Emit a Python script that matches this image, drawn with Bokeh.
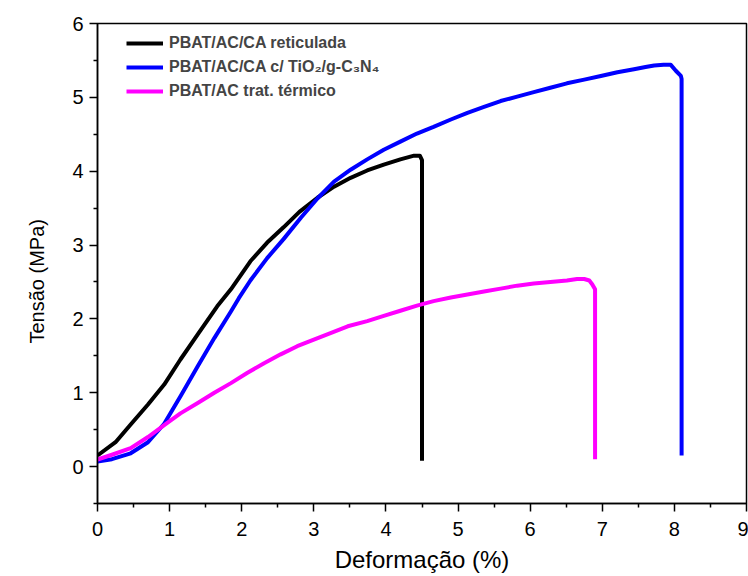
from bokeh.plotting import figure
from bokeh.models import FixedTicker, Legend, LegendItem, Range1d, Title
from bokeh.embed import file_html
from bokeh.resources import INLINE

# --- data ---
ret_x = [0, 0.25, 0.46, 0.7, 0.925, 1.15, 1.39, 1.66, 1.85, 2.12, 2.35, 2.58, 2.8, 3.05, 3.28,
         3.51, 3.74, 3.97, 4.2, 4.39, 4.47, 4.5, 4.5]
ret_y = [0.15, 0.33, 0.57, 0.84, 1.11, 1.45, 1.79, 2.17, 2.40, 2.78, 3.03, 3.24, 3.45, 3.64, 3.79,
         3.91, 4.01, 4.09, 4.16, 4.21, 4.21, 4.15, 0.08]

tio_x = [0, 0.2, 0.46, 0.7, 0.925, 1.155, 1.39, 1.62, 1.85, 1.96, 2.12, 2.35, 2.58, 2.82, 3.05,
         3.28, 3.51, 3.74, 3.97, 4.20, 4.43, 4.66, 4.90, 5.13, 5.36, 5.59, 5.82, 6.05, 6.28, 6.51,
         6.75, 6.98, 7.21, 7.44, 7.6, 7.72, 7.85, 7.95, 8.02, 8.09, 8.10, 8.10]
tio_y = [0.07, 0.10, 0.18, 0.33, 0.58, 0.96, 1.36, 1.74, 2.10, 2.28, 2.52, 2.82, 3.08, 3.37, 3.63,
         3.86, 4.02, 4.16, 4.29, 4.40, 4.51, 4.60, 4.70, 4.79, 4.87, 4.95, 5.01, 5.07, 5.13, 5.19,
         5.24, 5.29, 5.34, 5.38, 5.41, 5.43, 5.44, 5.44, 5.36, 5.29, 5.25, 0.15]

tt_x = [0, 0.2, 0.46, 0.7, 0.925, 1.15, 1.39, 1.62, 1.85, 2.08, 2.31, 2.54, 2.77, 3.0, 3.24,
        3.47, 3.74, 3.97, 4.2, 4.43, 4.66, 4.9, 5.13, 5.36, 5.59, 5.82, 6.05, 6.28, 6.51, 6.65,
        6.75, 6.82, 6.86, 6.90, 6.90]
tt_y = [0.095, 0.16, 0.25, 0.40, 0.56, 0.72, 0.86, 1.00, 1.13, 1.27, 1.40, 1.52, 1.63, 1.72, 1.81,
        1.90, 1.97, 2.04, 2.11, 2.18, 2.24, 2.29, 2.33, 2.37, 2.41, 2.45, 2.48, 2.50, 2.52, 2.54,
        2.54, 2.52, 2.47, 2.40, 0.10]

labels = ["PBAT/AC/CA reticulada", "PBAT/AC/CA c/ TiO\u2082/g-C\u2083N\u2084", "PBAT/AC trat. térmico"]
colors = ["#000000", "#0000FF", "#FF00FF"]

x_ticks = [0, 1, 2, 3, 4, 5, 6, 7, 8, 9]
x_minor = [0.5, 1.5, 2.5, 3.5, 4.5, 5.5, 6.5, 7.5, 8.5]
y_ticks = [0, 1, 2, 3, 4, 5, 6]
y_minor = [-0.5, 0.5, 1.5, 2.5, 3.5, 4.5, 5.5]

x_title = "Deformação (%)"
y_title = "Tensão (MPa)"

FONT = "Liberation Sans"

p = figure(width=748, height=576, output_backend="svg", toolbar_location=None,
           x_range=Range1d(0, 9), y_range=Range1d(-0.5, 6),
           min_border_left=97, min_border_right=2, min_border_top=23, min_border_bottom=73)
p.grid.visible = False
p.outline_line_color = "black"
p.outline_line_width = 1.5
p.background_fill_color = "white"
p.border_fill_color = "white"

rs = []
for xs, ys, c in zip([ret_x, tio_x, tt_x], [ret_y, tio_y, tt_y], colors):
    r = p.line(xs, ys, line_color=c, line_width=4, line_join="round")
    rs.append(r)

for ax in (p.xaxis[0], p.yaxis[0]):
    ax.axis_line_width = 1.5
    ax.major_tick_line_width = 1.5
    ax.minor_tick_line_width = 1.5
    ax.major_tick_in = 0
    ax.major_tick_out = 8
    ax.minor_tick_in = 0
    ax.minor_tick_out = 4
    ax.major_label_text_font = FONT
    ax.major_label_text_font_size = "20px"
    ax.major_label_text_color = "black"
    ax.axis_label_text_font = FONT
    ax.axis_label_text_font_style = "normal"
    ax.axis_label_text_color = "black"

p.xaxis[0].ticker = FixedTicker(ticks=x_ticks, minor_ticks=x_minor)
p.yaxis[0].ticker = FixedTicker(ticks=y_ticks, minor_ticks=y_minor)
p.xaxis[0].axis_label = x_title
p.xaxis[0].axis_label_text_font_size = "24px"
p.xaxis[0].major_label_standoff = 10
p.yaxis[0].major_label_standoff = 6
p.xaxis[0].axis_label_standoff = 7

ytitle = Title(text=y_title, align="left", offset=160, standoff=44,
               text_font=FONT, text_font_size="20px", text_font_style="normal",
               text_color="black")
p.add_layout(ytitle, "left")

legend = Legend(items=[LegendItem(label=l, renderers=[r]) for l, r in zip(labels, rs)],
                location=(29, 402), margin=0, padding=0, spacing=4,
                glyph_width=37, glyph_height=20, label_height=20, label_standoff=6,
                label_text_font=FONT, label_text_font_size="16px", label_text_font_style="bold",
                border_line_alpha=0, background_fill_alpha=0)
p.add_layout(legend)

open("out.html", "w").write(file_html(p, INLINE))
